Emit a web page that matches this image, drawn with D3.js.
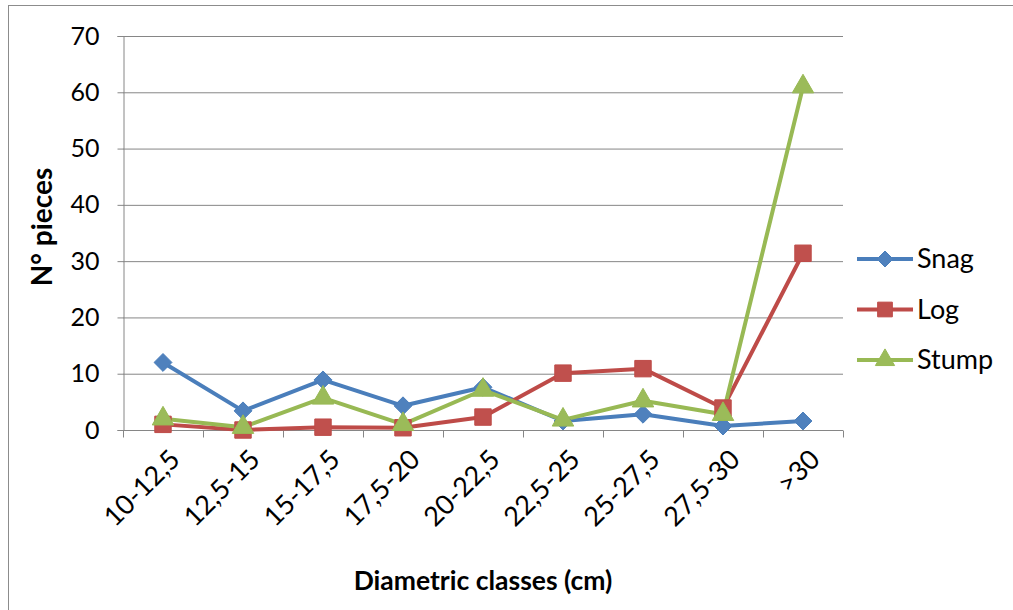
<!DOCTYPE html>
<html><head><meta charset="utf-8">
<script src="https://cdn.jsdelivr.net/npm/d3@7"></script>
<style>body{margin:0;background:#fff;} svg{display:block;}</style>
</head><body>
<svg id="c" width="1013" height="610"></svg>
<script>
const categories = ["10-12,5","12,5-15","15-17,5","17,5-20","20-22,5","22,5-25","25-27,5","27,5-30",">30"];
const snag  = [12, 3.4, 8.9, 4.3, 7.6, 1.6, 2.8, 0.7, 1.6];
const log   = [1, 0, 0.5, 0.4, 2.3, 10.1, 10.9, 3.9, 31.4];
const stump = [2, 0.5, 5.7, 1, 7.1, 1.8, 5.2, 2.8, 61];
const yTicks = [0,10,20,30,40,50,60,70];
const seriesNames = ["Snag","Log","Stump"];

const diamond = { draw(ctx, size){ const r = Math.sqrt(size/2); ctx.moveTo(0,-r); ctx.lineTo(r,0); ctx.lineTo(0,r); ctx.lineTo(-r,0); ctx.closePath(); } };

const series = [
  {name: seriesNames[0], values: snag, color: "#4a7ebb", fill:"#4f81bd", shape: diamond, size: 160},
  {name: seriesNames[1], values: log, color: "#be4b48", fill:"#c0504d", shape: d3.symbolSquare, size: 270},
  {name: seriesNames[2], values: stump, color: "#98b954", fill:"#9bbb59", shape: d3.symbolTriangle, size: 200}
];

const svg = d3.select("#c");
const font = "Lato, 'Open Sans', sans-serif";
svg.append("rect").attr("x",8.5).attr("y",5.5).attr("width",1010).attr("height",620)
  .attr("fill","none").attr("stroke","#8c8c8c").attr("stroke-width",1);

const L=123, R=843, T=36, B=430;
const x = d3.scaleBand().domain(categories).range([L,R]);
const y = d3.scaleLinear().domain([0,70]).range([B,T]);

// gridlines
svg.append("g").selectAll("line").data(yTicks.filter(d=>d>0)).join("line")
  .attr("x1",L).attr("x2",R).attr("y1",d=>y(d)+0.5).attr("y2",d=>y(d)+0.5)
  .attr("stroke","#868686").attr("stroke-width",1);

// y axis
const ya = svg.append("g").attr("transform",`translate(${L+0.5},0)`)
  .call(d3.axisLeft(y).tickValues(yTicks).tickSize(6).tickPadding(18).tickFormat(d3.format("d")));
ya.select(".domain").attr("stroke","#868686");
ya.selectAll(".tick line").attr("stroke","#868686");
ya.selectAll("text").attr("font-family",font).attr("font-size",25).attr("fill","#000");

// x axis
const xa = svg.append("g").attr("transform",`translate(0,${B+0.5})`);
xa.append("line").attr("x1",L).attr("x2",R).attr("stroke","#868686");
const bounds = categories.map(c=>x(c)).concat([R]);
xa.selectAll("line.t").data(bounds).join("line").attr("class","t")
  .attr("x1",d=>d+0.5).attr("x2",d=>d+0.5).attr("y1",0).attr("y2",7).attr("stroke","#868686");
xa.selectAll("text").data(categories).join("text")
  .attr("transform",d=>`translate(${x(d)+x.bandwidth()/2+12},${24}) rotate(-45)`)
  .attr("text-anchor","end").attr("dy","0.35em")
  .attr("font-family",font).attr("font-size",27).attr("fill","#000").text(d=>d);

// axis titles
svg.append("text").attr("x",483).attr("y",590).attr("text-anchor","middle")
  .attr("font-family",font).attr("font-size",26.5).attr("font-weight","bold").text("Diametric classes (cm)");
svg.append("text").attr("transform","translate(52,227) rotate(-90)").attr("text-anchor","middle")
  .attr("font-family",font).attr("font-size",28).attr("font-weight","bold").text("N° pieces");

// lines
const line = d3.line().x((d,i)=>x(categories[i])+x.bandwidth()/2).y(d=>y(d));
series.forEach(s=>{
  svg.append("path").datum(s.values).attr("d",line).attr("fill","none")
    .attr("stroke",s.color).attr("stroke-width",4).attr("stroke-linejoin","round");
});
series.forEach(s=>{
  svg.append("g").selectAll("path").data(s.values).join("path")
    .attr("transform",(d,i)=>`translate(${x(categories[i])+x.bandwidth()/2},${y(d)})`)
    .attr("d",d3.symbol().type(s.shape).size(s.size)).attr("fill",s.fill).attr("stroke",s.color).attr("stroke-width",1);
});

// legend
const leg = svg.append("g");
series.forEach((s,i)=>{
  const ly = 259 + i*50.5;
  leg.append("line").attr("x1",857).attr("x2",913).attr("y1",ly).attr("y2",ly).attr("stroke",s.color).attr("stroke-width",4);
  leg.append("path").attr("transform",`translate(885,${ly})`).attr("d",d3.symbol().type(s.shape).size(s.size*0.8))
    .attr("fill",s.fill).attr("stroke",s.color);
  leg.append("text").attr("x",917).attr("y",ly).attr("dy","0.35em").attr("font-family",font)
    .attr("font-size",27).attr("fill","#000").text(s.name);
});
</script>
</body></html>
